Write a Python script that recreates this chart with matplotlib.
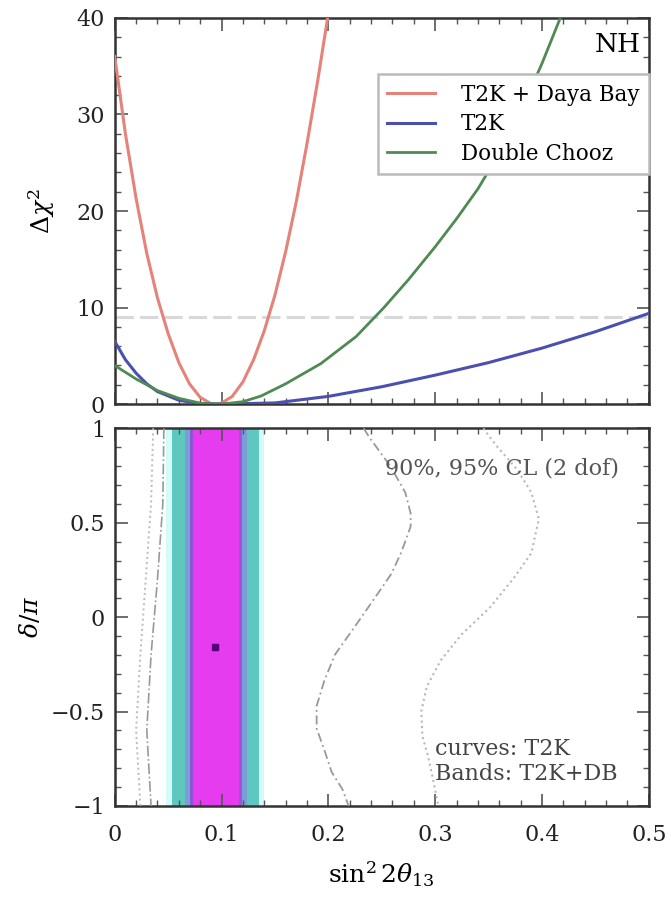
import numpy as np
import matplotlib
matplotlib.use("Agg")
import matplotlib.pyplot as plt
from matplotlib.ticker import MultipleLocator

# ---------------- data ----------------
# top panel: delta chi^2 vs sin^2 2theta13
red_x = [0.0, 0.01, 0.02, 0.03, 0.04, 0.05, 0.06, 0.07, 0.08, 0.09, 0.095, 0.10, 0.11, 0.12,
         0.13, 0.14, 0.15, 0.16, 0.17, 0.18, 0.19, 0.20, 0.205]
red_y = [36.0, 28.0, 21.3, 15.6, 11.0, 7.3, 4.3, 2.1, 0.7, 0.05, 0.0, 0.1, 0.8, 2.3,
         4.6, 7.6, 11.3, 15.8, 21.0, 27.0, 33.5, 40.5, 44.0]

blue_x = [0.0, 0.01, 0.02, 0.03, 0.04, 0.06, 0.08, 0.10, 0.15, 0.20, 0.25, 0.30, 0.35,
          0.40, 0.45, 0.50]
blue_y = [6.5, 4.6, 3.2, 2.1, 1.3, 0.4, 0.05, 0.0, 0.12, 0.8, 1.8, 3.0, 4.3, 5.8, 7.5, 9.4]

green_x = [0.0, 0.02, 0.04, 0.06, 0.08, 0.10, 0.12, 0.137, 0.16, 0.193, 0.226, 0.252,
           0.275, 0.30, 0.32, 0.34, 0.36, 0.38, 0.40, 0.42]
green_y = [4.0, 2.6, 1.4, 0.6, 0.1, 0.0, 0.25, 0.84, 2.1, 4.2, 7.0, 10.0,
           12.9, 16.3, 19.2, 22.3, 26.0, 30.3, 35.3, 40.8]

chi2_ref = 9.0

# bottom panel: allowed bands (sin^2 2theta13 ranges) and contours vs delta/pi
band_lo = [0.048, 0.054, 0.066, 0.071]
band_hi = [0.140, 0.135, 0.124, 0.117]
best_fit = (0.094, -0.16)

c90_left_d = [1.0, 0.6, 0.2, -0.2, -0.6, -1.0]
c90_left_x = [0.046, 0.045, 0.040, 0.034, 0.030, 0.034]
c95_left_d = [1.0, 0.6, 0.2, -0.2, -0.6, -1.0]
c95_left_x = [0.036, 0.034, 0.029, 0.024, 0.020, 0.024]

c90_right_d = [1.0, 0.947, 0.80, 0.66, 0.55, 0.48, 0.34, 0.23, 0.09, -0.04, -0.20, -0.34,
               -0.47, -0.59, -0.70, -0.82, -0.91, -1.0]
c90_right_x = [0.233, 0.239, 0.258, 0.272, 0.277, 0.277, 0.268, 0.259, 0.242, 0.226, 0.206,
               0.196, 0.189, 0.189, 0.196, 0.203, 0.213, 0.219]

c95_right_d = [1.0, 0.91, 0.78, 0.66, 0.52, 0.34, 0.21, 0.05, -0.09, -0.23, -0.37, -0.50,
               -0.63, -0.73, -0.86, -1.0]
c95_right_x = [0.345, 0.357, 0.377, 0.390, 0.397, 0.390, 0.374, 0.351, 0.325, 0.305, 0.292,
               0.287, 0.288, 0.293, 0.298, 0.303]

legend_labels = ["T2K + Daya Bay", "T2K", "Double Chooz"]
xticks = [0, 0.1, 0.2, 0.3, 0.4, 0.5]
xticklabels = ["0", "0.1", "0.2", "0.3", "0.4", "0.5"]
yticks_top = [0, 10, 20, 30, 40]
yticks_bot = [-1, -0.5, 0, 0.5, 1]
yticklabels_bot = ["\u22121", "\u22120.5", "0", "0.5", "1"]

# ---------------- style ----------------
plt.rcParams['font.family'] = ['DejaVu Serif']
plt.rcParams['mathtext.fontset'] = 'dejavuserif'
plt.rcParams['axes.linewidth'] = 1.8
plt.rcParams['axes.edgecolor'] = '#333333'

fig = plt.figure(figsize=(6.71, 8.98), dpi=100)
L, R = 0.171, 0.967
ax1 = fig.add_axes([L, 0.550, R - L, 0.430])
ax2 = fig.add_axes([L, 0.1025, R - L, 0.4205])

def style(ax):
    ax.tick_params(which='both', direction='in', top=True, right=True, labelsize=16,
                   color='#555555', labelcolor='#222222')
    ax.tick_params(which='major', length=9, width=1.2)
    ax.tick_params(which='minor', length=4.5, width=1.0)
    ax.tick_params(axis='x', which='major', pad=13)
    ax.tick_params(axis='y', which='major', pad=7)
    ax.xaxis.set_minor_locator(MultipleLocator(0.02))

# top panel
ax1.axhline(chi2_ref, color='#d8d8d8', lw=2.2, ls=(0, (6, 2)), zorder=1)
ax1.plot(red_x, red_y, color='#e5827a', lw=2.2, label=legend_labels[0], zorder=3)
ax1.plot(blue_x, blue_y, color='#4b50b0', lw=2.2, label=legend_labels[1], zorder=3)
ax1.plot(green_x, green_y, color='#4f8a52', lw=2.0, label=legend_labels[2], zorder=3)
ax1.set_xlim(0, 0.5)
ax1.set_ylim(0, 40)
ax1.set_yticks(yticks_top)
ax1.set_xticks(xticks)
ax1.set_xticklabels([])
ax1.yaxis.set_minor_locator(MultipleLocator(2))
style(ax1)
ax1.set_ylabel(r'$\Delta\chi^2$', fontsize=18)
ax1.yaxis.set_label_coords(-0.108, 0.5)
ax1.text(0.985, 0.93, 'NH', transform=ax1.transAxes, ha='right', va='center', fontsize=19)
leg = ax1.legend(loc='upper right', bbox_to_anchor=(1.0, 0.855), borderaxespad=0.0,
                 fontsize=15.5, frameon=True, fancybox=False, edgecolor='#bbbbbb',
                 framealpha=1.0, handlelength=2.2, handletextpad=1.2, labelspacing=0.35,
                 borderpad=0.45)
leg.get_frame().set_linewidth(1.8)

# bottom panel
band_colors = ['#d4fbf7', '#5ec8c0', '#7c9dd8', '#e63cf0']
for lo, hi, c in zip(band_lo, band_hi, band_colors):
    ax2.axvspan(lo, hi, color=c, lw=0, zorder=1)
ax2.axvline(band_lo[3], color='#8a55d5', lw=2.0, zorder=2)
ax2.axvline(band_hi[3], color='#9a55d5', lw=2.0, zorder=2)
ax2.plot([best_fit[0]], [best_fit[1]], marker='s', ms=5, color='#560078', zorder=4)

ax2.plot(c90_left_x, c90_left_d, color='#999999', lw=1.2, ls='-.', zorder=3)
ax2.plot(c95_left_x, c95_left_d, color='#bbbbbb', lw=1.4, ls=':', zorder=3)
ax2.plot(c90_right_x, c90_right_d, color='#999999', lw=1.3, ls=(0, (5, 2, 1, 2)), zorder=3)
ax2.plot(c95_right_x, c95_right_d, color='#b8b8b8', lw=1.5, ls=':', zorder=3)

ax2.set_xlim(0, 0.5)
ax2.set_ylim(-1, 1)
ax2.set_xticks(xticks)
ax2.set_xticklabels(xticklabels)
ax2.set_yticks(yticks_bot)
ax2.set_yticklabels(yticklabels_bot)
ax2.yaxis.set_minor_locator(MultipleLocator(0.1))
style(ax2)
ax2.set_ylabel(r'$\delta/\pi$', fontsize=18)
ax2.yaxis.set_label_coords(-0.135, 0.5)
ax2.set_xlabel(r'$\sin^2 2\theta_{13}$', fontsize=18, labelpad=10)
ax2.text(0.945, 0.893, '90%, 95% CL (2 dof)', transform=ax2.transAxes, ha='right',
         va='center', fontsize=16, color='#555555')
ax2.text(0.60, 0.152, 'curves: T2K', transform=ax2.transAxes, ha='left', va='center',
         fontsize=16, color='#444444')
ax2.text(0.60, 0.085, 'Bands: T2K+DB', transform=ax2.transAxes, ha='left', va='center',
         fontsize=16, color='#444444')

fig.savefig('out.png', dpi=100)
